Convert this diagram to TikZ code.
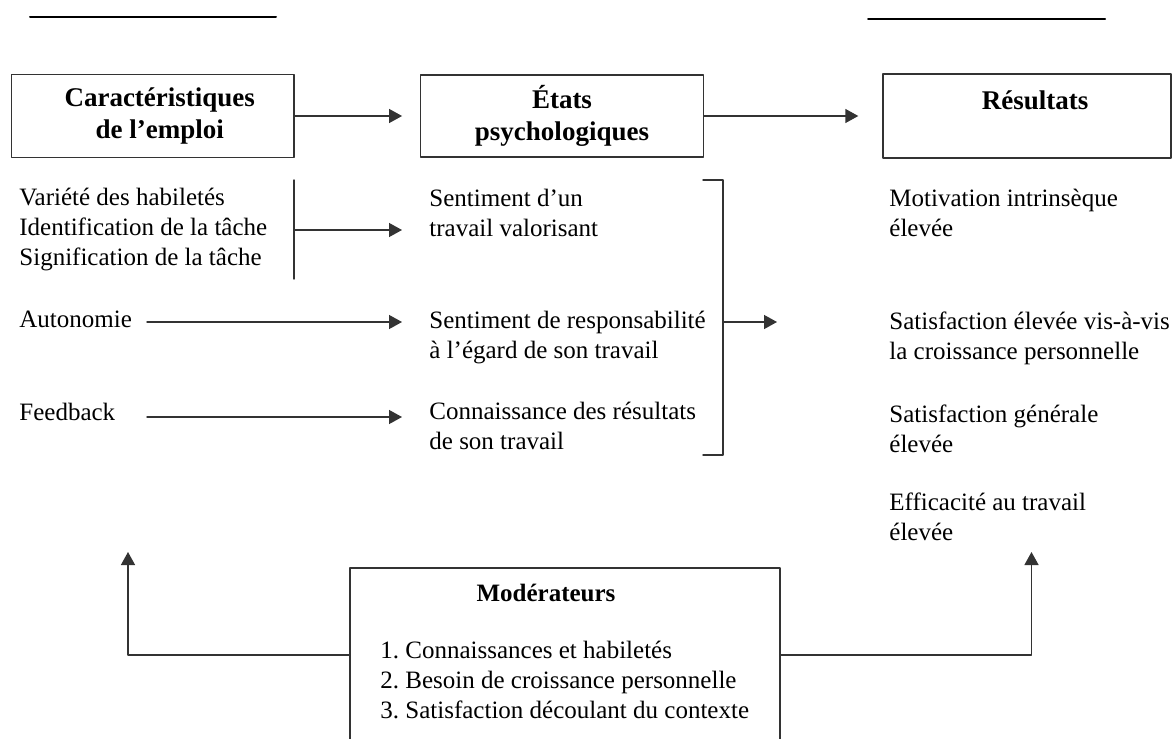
\documentclass[tikz,border=0pt]{standalone}
\usepackage{fontspec}
\setmainfont{Liberation Serif}
\usetikzlibrary{arrows.meta}
\frenchspacing
\newcommand{\bodyfnt}{\fontsize{12.5}{15}\selectfont}
\newcommand{\headfnt}{\fontsize{13.5}{16}\selectfont\bfseries}
\tikzset{
  titlebox/.style={draw=black!80,line width=0.7pt,align=center,font=\headfnt,inner sep=0pt},
  lbl/.style={anchor=north west,align=left,inner sep=0pt,font=\bodyfnt},
  conn/.style={draw=black!80,line width=0.7pt}
}
\begin{document}
\begin{tikzpicture}[line cap=round,line join=round,>={Triangle[length=6.5pt,width=7pt]},x=0.5pt,y=-0.5pt]
      \useasboundingbox (0,0) rectangle (1176,738);
      % rules at the top
      \draw[line width=1pt] (30,17) -- (276,17);
      \draw[line width=1pt] (868,19) -- (1105,19);
      % the three boxes
      \node[titlebox,minimum width=141.25pt,minimum height=41.5pt] (caract) at (152.75,116) {\hspace*{7pt}Caractéristiques\\\hspace*{7pt}de l’emploi};
      \node[titlebox,minimum width=141.25pt,minimum height=41pt] (etats) at (562,116) {États\\psychologiques};
      \node[titlebox,minimum width=144pt,minimum height=42pt] (result) at (1027,116) {\hspace*{8pt}Résultats\\\mbox{}};
      \draw[conn,->,shorten >=9pt] (caract) -- (etats);
      \draw[conn,->,shorten >=12pt] (etats) -- (result);
      % job characteristics
      \node[lbl] (taches) at (19,188) {Variété des habiletés\\Identification de la tâche\\Signification de la tâche};
      \node[lbl] (auton) at (19,311) {Autonomie};
      \node[lbl] (feedb) at (19,403) {Feedback};
      % psychological states
      \node[lbl] (sentval) at (429,189) {Sentiment d’un\\travail valorisant};
      \node[lbl] (sentresp) at (429,311) {Sentiment de responsabilité\\à l’égard de son travail};
      \node[lbl] (connres) at (429,402) {Connaissance des résultats\\de son travail};
      % outcomes
      \node[lbl] (motiv) at (889,189) {Motivation intrinsèque\\élevée};
      \node[lbl] (satcroiss) at (889,311) {Satisfaction élevée vis-à-vis\\la croissance personnelle};
      \node[lbl] (satgen) at (889,404) {Satisfaction générale\\élevée};
      \node[lbl] (effic) at (889,492) {Efficacité au travail\\élevée};
      % links between the columns
      \coordinate (gtop) at (294,180);
      \coordinate (gbot) at (294,279);
      \coordinate (gmid) at (294,230);
      \coordinate (gtip) at (402,230);
      \draw[conn] (gtop) -- (gbot);
      \draw[conn,->] (gmid) -- (gtip);
      \coordinate (autost) at (147,322);
      \coordinate (autotip) at (402,322);
      \coordinate (feedst) at (147,417);
      \coordinate (feedtip) at (402,417);
      \draw[conn,->] (autost) -- (autotip);
      \draw[conn,->] (feedst) -- (feedtip);
      % bracket
      \coordinate (brtop) at (703,180);
      \coordinate (brbot) at (703,455);
      \coordinate (brmid) at (723,322);
      \coordinate (brtip) at (777,322);
      \draw[conn] (brtop) -- (723,180) -- (723,455) -- (brbot);
      \draw[conn,->] (brmid) -- (brtip);
      % moderators
      \node[draw=black!80,line width=0.7pt,minimum width=215pt,minimum height=87pt,inner sep=0pt] (modbox) at (565,655) {};
      \node[font=\fontsize{12.5}{15}\selectfont\bfseries,inner sep=0pt] (modtitre) at (546,593) {Modérateurs};
      \node[lbl] (moditems) at (380,641) {1. Connaissances et habiletés\\2. Besoin de croissance personnelle\\3. Satisfaction découlant du contexte};
      \coordinate (upL) at (128,552);
      \coordinate (upR) at (1031.5,552);
      \draw[conn,->] (modbox.west) -| (upL);
      \draw[conn,->] (modbox.east) -| (upR);
\end{tikzpicture}
\end{document}
